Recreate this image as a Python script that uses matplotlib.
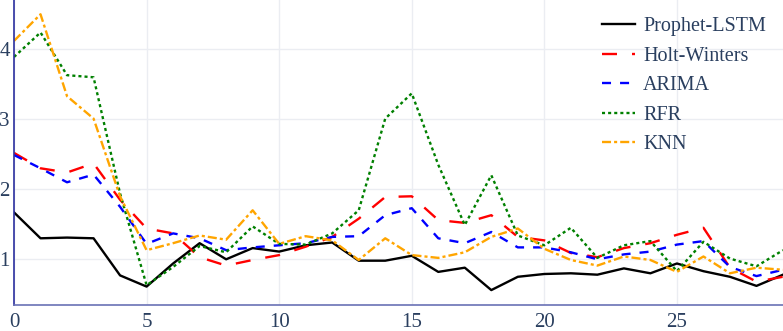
import numpy as np
import matplotlib
matplotlib.use("Agg")
import matplotlib.pyplot as plt

# datos
x = np.arange(30)

prophet_lstm = [1.67, 1.30, 1.31, 1.30, 0.77, 0.61, 0.94, 1.23, 1.00, 1.16,
                1.11, 1.20, 1.24, 0.98, 0.98, 1.05, 0.82, 0.88, 0.56, 0.75,
                0.79, 0.80, 0.78, 0.87, 0.80, 0.94, 0.83, 0.75, 0.62, 0.78]
holt_winters = [2.52, 2.30, 2.24, 2.37, 1.85, 1.44, 1.37, 1.03, 0.91, 0.99,
                1.06, 1.18, 1.32, 1.58, 1.89, 1.90, 1.56, 1.52, 1.63, 1.32,
                1.27, 1.09, 1.03, 1.16, 1.23, 1.35, 1.45, 0.88, 0.68, 0.75]
arima = [2.49, 2.30, 2.10, 2.21, 1.75, 1.22, 1.37, 1.30, 1.13, 1.17,
         1.20, 1.23, 1.32, 1.33, 1.63, 1.73, 1.30, 1.23, 1.39, 1.17,
         1.17, 1.10, 1.00, 1.07, 1.11, 1.21, 1.26, 0.89, 0.76, 0.85]
rfr = [3.89, 4.24, 3.63, 3.60, 1.94, 0.63, 0.89, 1.19, 1.10, 1.47,
       1.22, 1.21, 1.37, 1.70, 3.01, 3.37, 2.35, 1.49, 2.20, 1.34,
       1.20, 1.45, 1.02, 1.20, 1.26, 0.83, 1.25, 1.01, 0.90, 1.13]
knn = [4.12, 4.50, 3.33, 3.01, 1.90, 1.13, 1.23, 1.34, 1.28, 1.70,
       1.22, 1.33, 1.27, 0.99, 1.30, 1.06, 1.02, 1.10, 1.32, 1.44,
       1.15, 0.99, 0.91, 1.04, 0.99, 0.82, 1.04, 0.80, 0.88, 0.85]

nombres = ['Prophet-LSTM', 'Holt-Winters', 'ARIMA', 'RFR', 'KNN']
series = [prophet_lstm, holt_winters, arima, rfr, knn]
colores = ['black', 'red', 'blue', 'green', 'orange']
# patrones en puntos (estilo plotly, ~px * 0.72)
guiones = [None, (0, (10.8, 10.8)), (0, (6.5, 6.5)), (0, (2.2, 2.2)),
           (0, (6.5, 2.2, 2.2, 2.2))]

plt.rcParams['lines.scale_dashes'] = False
plt.rcParams['font.family'] = ['Liberation Serif', 'DejaVu Serif']

fig = plt.figure(figsize=(7.83, 3.31), dpi=100)
ax = fig.add_axes([14 / 783, 26 / 331, 1 - 14 / 783, 1 - 26 / 331])

for nombre, y, c, ls in zip(nombres, series, colores, guiones):
    if ls is None:
        ax.plot(x, y, color=c, linewidth=1.7, label=nombre)
    else:
        ax.plot(x, y, color=c, linewidth=1.7, linestyle=ls, label=nombre)

ax.set_xlim(0, 29)
ax.set_ylim(0.347, 4.704)
ax.set_xticks([0, 5, 10, 15, 20, 25])
ax.set_yticks([1, 2, 3, 4])
ax.grid(True, color='#ebedf2', linewidth=1)
ax.set_axisbelow(True)

for lado in ['top', 'right']:
    ax.spines[lado].set_visible(False)
ax.spines['left'].set_color('#2b2f9e')
ax.spines['bottom'].set_color('#6a72b5')
ax.spines['left'].set_linewidth(1.2)
ax.spines['bottom'].set_linewidth(1.2)

ax.tick_params(axis='both', length=0, labelsize=15, colors='#2a3f5f')
ax.tick_params(axis='y', pad=3)
ax.tick_params(axis='x', pad=6)

leg = ax.legend(loc='upper right', frameon=False, fontsize=14.5,
                handlelength=1.65, handletextpad=0.4, labelspacing=0.52,
                borderaxespad=0.45, bbox_to_anchor=(1.0, 1.0))
for t in leg.get_texts():
    t.set_color('#2a3f5f')

fig.savefig('out.png', dpi=100)
